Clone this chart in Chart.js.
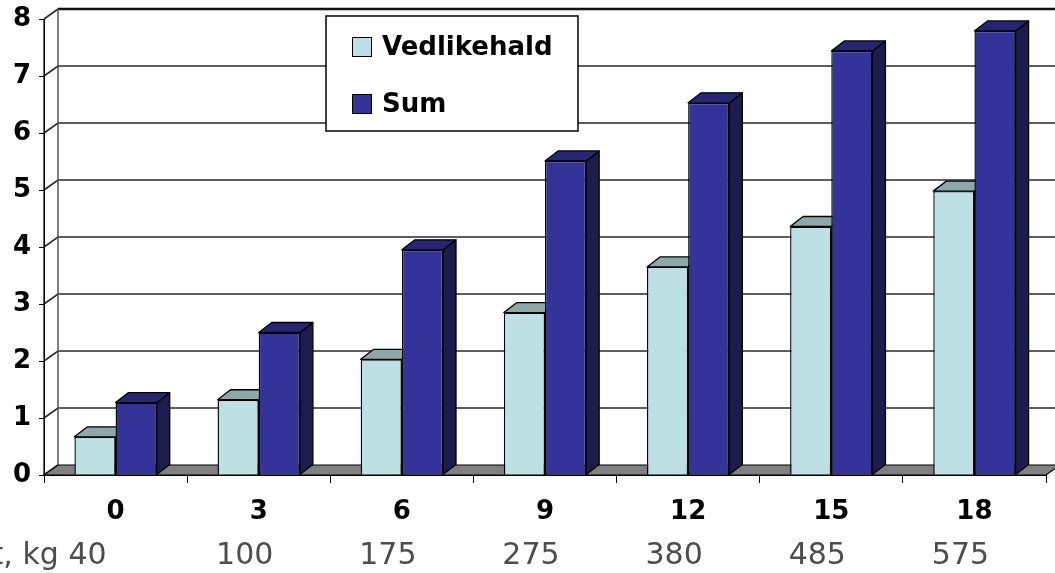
<!DOCTYPE html>
<html>
<head>
<meta charset="utf-8">
<script src="https://cdn.jsdelivr.net/npm/chart.js@4.4.1/dist/chart.umd.min.js"></script>
<style>
  html, body { margin: 0; padding: 0; background: #ffffff; }
  #wrap { width: 1055px; height: 573px; }
</style>
</head>
<body>
<div id="wrap"><canvas id="c" width="1055" height="573"></canvas></div>
<script>
// Age groups along the x axis and the matching body weight row
const categories = ['0', '3', '6', '9', '12', '15', '18'];
const weightLabels = ['40', '100', '175', '275', '380', '485', '575'];
const weightTitle = 'Vekt, kg';

// Series values
const vedlikehald = [0.67, 1.32, 2.03, 2.85, 3.65, 4.36, 4.98];
const sum = [1.27, 2.50, 3.95, 5.51, 6.53, 7.44, 7.79];

// Value axis ticks
const yTicks = [0, 1, 2, 3, 4, 5, 6, 7, 8];

// Face colours for the 3D columns: front, top, side
const faces = {
  Vedlikehald: { front: '#bce0e3', top: '#8ca8a9', side: '#7e9a9c' },
  Sum: { front: '#333399', top: '#262673', side: '#1c1c4d' }
};

const BAR_DX = 13, BAR_DY = -10;   // depth of each column
const WALL_DX = 14, WALL_DY = -10; // depth of floor and walls

function drawColumnDepth(ctx, meta, f) {
  meta.data.forEach(bar => {
    const p = bar.getProps(['x', 'y', 'base', 'width'], true);
    const l = p.x - p.width / 2, r = p.x + p.width / 2, t = p.y, b = p.base;
    // side face
    ctx.fillStyle = f.side;
    ctx.beginPath();
    ctx.moveTo(r, t);
    ctx.lineTo(r + BAR_DX, t + BAR_DY);
    ctx.lineTo(r + BAR_DX, b + BAR_DY);
    ctx.lineTo(r, b);
    ctx.closePath();
    ctx.fill();
    ctx.stroke();
    // top face
    ctx.fillStyle = f.top;
    ctx.beginPath();
    ctx.moveTo(l, t);
    ctx.lineTo(l + BAR_DX, t + BAR_DY);
    ctx.lineTo(r + BAR_DX, t + BAR_DY);
    ctx.lineTo(r, t);
    ctx.closePath();
    ctx.fill();
    ctx.stroke();
  });
}

// Back wall, side wall, floor and column depth, drawn underneath the front faces
const wallsPlugin = {
  id: 'walls',
  beforeDatasetsDraw(chart) {
    const { ctx, chartArea: a, scales: { y } } = chart;
    ctx.save();
    // back wall gridlines
    ctx.strokeStyle = '#2a2a2a';
    ctx.lineWidth = 1.6;
    yTicks.forEach(v => {
      const py = y.getPixelForValue(v);
      ctx.beginPath();
      ctx.moveTo(a.left, py);
      ctx.lineTo(a.left + WALL_DX, py + WALL_DY);
      if (v > 0 && v < yTicks[yTicks.length - 1]) ctx.lineTo(chart.width + 20, py + WALL_DY);
      ctx.stroke();
    });
    // top edge of back wall
    ctx.strokeStyle = '#111';
    ctx.lineWidth = 2.5;
    ctx.beginPath();
    ctx.moveTo(a.left + WALL_DX, a.top + WALL_DY);
    ctx.lineTo(chart.width + 20, a.top + WALL_DY);
    ctx.stroke();
    // back edge of side wall
    ctx.strokeStyle = '#555';
    ctx.lineWidth = 1.5;
    ctx.beginPath();
    ctx.moveTo(a.left + WALL_DX, a.top + WALL_DY);
    ctx.lineTo(a.left + WALL_DX, a.bottom + WALL_DY);
    ctx.stroke();
    // floor
    ctx.fillStyle = '#808080';
    ctx.strokeStyle = '#000';
    ctx.lineWidth = 1.2;
    ctx.beginPath();
    ctx.moveTo(a.left, a.bottom);
    ctx.lineTo(a.right, a.bottom);
    ctx.lineTo(a.right + WALL_DX, a.bottom + WALL_DY);
    ctx.lineTo(a.left + WALL_DX, a.bottom + WALL_DY);
    ctx.closePath();
    ctx.fill();
    ctx.stroke();
    // front axis line
    ctx.beginPath();
    ctx.moveTo(a.left, a.top);
    ctx.lineTo(a.left, a.bottom);
    ctx.stroke();
    // column depth: left series first, so the right series hides its back part
    ctx.strokeStyle = '#000';
    ctx.lineWidth = 1.3;
    ctx.lineJoin = 'round';
    chart.data.datasets.forEach((ds, i) => {
      drawColumnDepth(ctx, chart.getDatasetMeta(i), faces[ds.label]);
    });
    ctx.restore();
  },
  afterDraw(chart) {
    const { ctx, scales: { x } } = chart;
    ctx.save();
    // weight row under the age labels
    ctx.font = '30px "DejaVu Sans"';
    ctx.fillStyle = '#4d4d4d';
    ctx.textBaseline = 'middle';
    weightLabels.forEach((w, i) => {
      const px = x.getPixelForValue(i);
      if (i === 0) {
        ctx.textAlign = 'right';
        ctx.fillText(weightTitle + ' ' + w, px - 9, 556);
      } else {
        ctx.textAlign = 'center';
        ctx.fillText(w, px - 14, 556);
      }
    });
    // legend box
    const bx = 326, by = 16, bw = 252, bh = 115;
    ctx.fillStyle = '#fff';
    ctx.fillRect(bx, by, bw, bh);
    ctx.strokeStyle = '#000';
    ctx.lineWidth = 1.5;
    ctx.strokeRect(bx, by, bw, bh);
    ctx.font = 'bold 26px "DejaVu Sans"';
    ctx.textAlign = 'left';
    chart.data.datasets.forEach((ds, i) => {
      const cy = 47 + i * 57;
      ctx.fillStyle = faces[ds.label].front;
      ctx.fillRect(352, cy - 10, 19, 19);
      ctx.lineWidth = 1;
      ctx.strokeRect(352.5, cy - 9.5, 19, 19);
      ctx.fillStyle = '#000';
      ctx.fillText(ds.label, 382, cy + 1);
    });
    ctx.restore();
  }
};

new Chart(document.getElementById('c'), {
  type: 'bar',
  data: {
    labels: categories,
    datasets: [
      {
        label: 'Vedlikehald',
        data: vedlikehald,
        backgroundColor: faces.Vedlikehald.front,
        borderColor: '#000',
        borderWidth: 1.4
      },
      {
        label: 'Sum',
        data: sum,
        backgroundColor: faces.Sum.front,
        borderColor: '#000',
        borderWidth: 1.4
      }
    ]
  },
  options: {
    responsive: false,
    animation: false,
    devicePixelRatio: 1,
    layout: { padding: { top: 19, right: 9, bottom: 0, left: 0 } },
    datasets: { bar: { categoryPercentage: 0.575, barPercentage: 1 } },
    plugins: { legend: { display: false }, tooltip: { enabled: false } },
    scales: {
      x: {
        grid: { display: true, drawOnChartArea: false, drawTicks: true, tickLength: 8, color: '#000', offset: true },
        border: { display: true, color: '#000' },
        ticks: { color: '#000', font: { family: 'DejaVu Sans', weight: 'bold', size: 26 }, padding: 14, maxRotation: 0 },
        afterFit(s) { s.height = 98; s.paddingLeft = 0; s.paddingRight = 0; }
      },
      y: {
        min: 0,
        max: 8,
        afterBuildTicks(s) { s.ticks = yTicks.map(v => ({ value: v })); },
        grid: { display: true, drawOnChartArea: false, drawTicks: true, tickLength: 5, color: '#000' },
        border: { display: true, color: '#000' },
        ticks: { color: '#000', font: { family: 'DejaVu Sans', weight: 'bold', size: 26 }, padding: 8 },
        afterFit(s) { s.width = 44; s.paddingTop = 0; s.paddingBottom = 0; }
      }
    }
  },
  plugins: [wallsPlugin]
});
</script>
</body>
</html>
